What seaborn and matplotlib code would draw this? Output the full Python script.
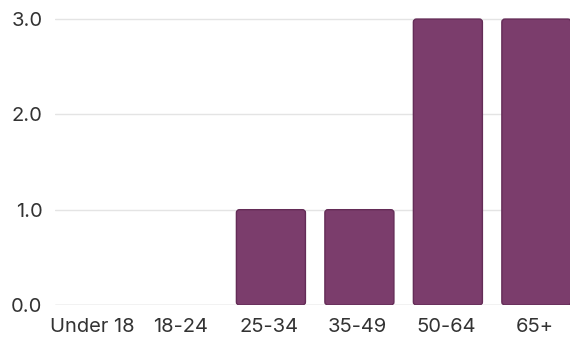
import matplotlib
matplotlib.use("Agg")
import matplotlib.pyplot as plt
import seaborn as sns
import pandas as pd
from matplotlib.patches import FancyBboxPatch

age_groups = ["Under 18", "18-24", "25-34", "35-49", "50-64", "65+"]
counts = [0, 0, 1, 1, 3, 3]
y_ticks = [0.0, 1.0, 2.0, 3.0]

sns.set_theme(style="white")
plt.rcParams["font.family"] = ["Inter", "DejaVu Sans"]

df = pd.DataFrame({"age": age_groups, "count": counts})

fig = plt.figure(figsize=(5.7, 3.37), dpi=100)
ax = fig.add_axes([55 / 570, 32 / 337, 515 / 570, 1 - 32 / 337])

bar_color = "#7b3d6c"
sns.barplot(data=df, x="age", y="count", order=age_groups, color=bar_color,
            width=0.78, saturation=1, ax=ax, zorder=3)

# replace the plain rectangles with slightly rounded ones
for p in list(ax.patches):
    x, y = p.get_x(), p.get_y()
    w, h = p.get_width(), p.get_height()
    p.remove()
    if h <= 0:
        continue
    ax.add_patch(FancyBboxPatch((x + 0.02, y), w, h,
                                boxstyle="round,pad=0,rounding_size=0.035",
                                mutation_aspect=0.9,
                                facecolor=bar_color, edgecolor="#642c57",
                                linewidth=1.0, zorder=3))

ax.set_xlim(-0.42, 5.4)
ax.set_ylim(0, 3.2)
ax.set_yticks(y_ticks)
ax.set_yticklabels([f"{t:.1f}" for t in y_ticks])
ax.yaxis.grid(True, color="#e4e4e4", linewidth=1.0, zorder=0)
ax.axhline(0, color="#d8d8d8", linewidth=1.0, zorder=1)
ax.set_axisbelow(True)
for s in ax.spines.values():
    s.set_visible(False)
ax.set_xlabel("")
ax.set_ylabel("")
ax.tick_params(axis="both", length=0, labelsize=14.5, colors="#333333")
ax.tick_params(axis="y", pad=9)
ax.tick_params(axis="x", pad=9)

fig.savefig("out.png", dpi=100)
